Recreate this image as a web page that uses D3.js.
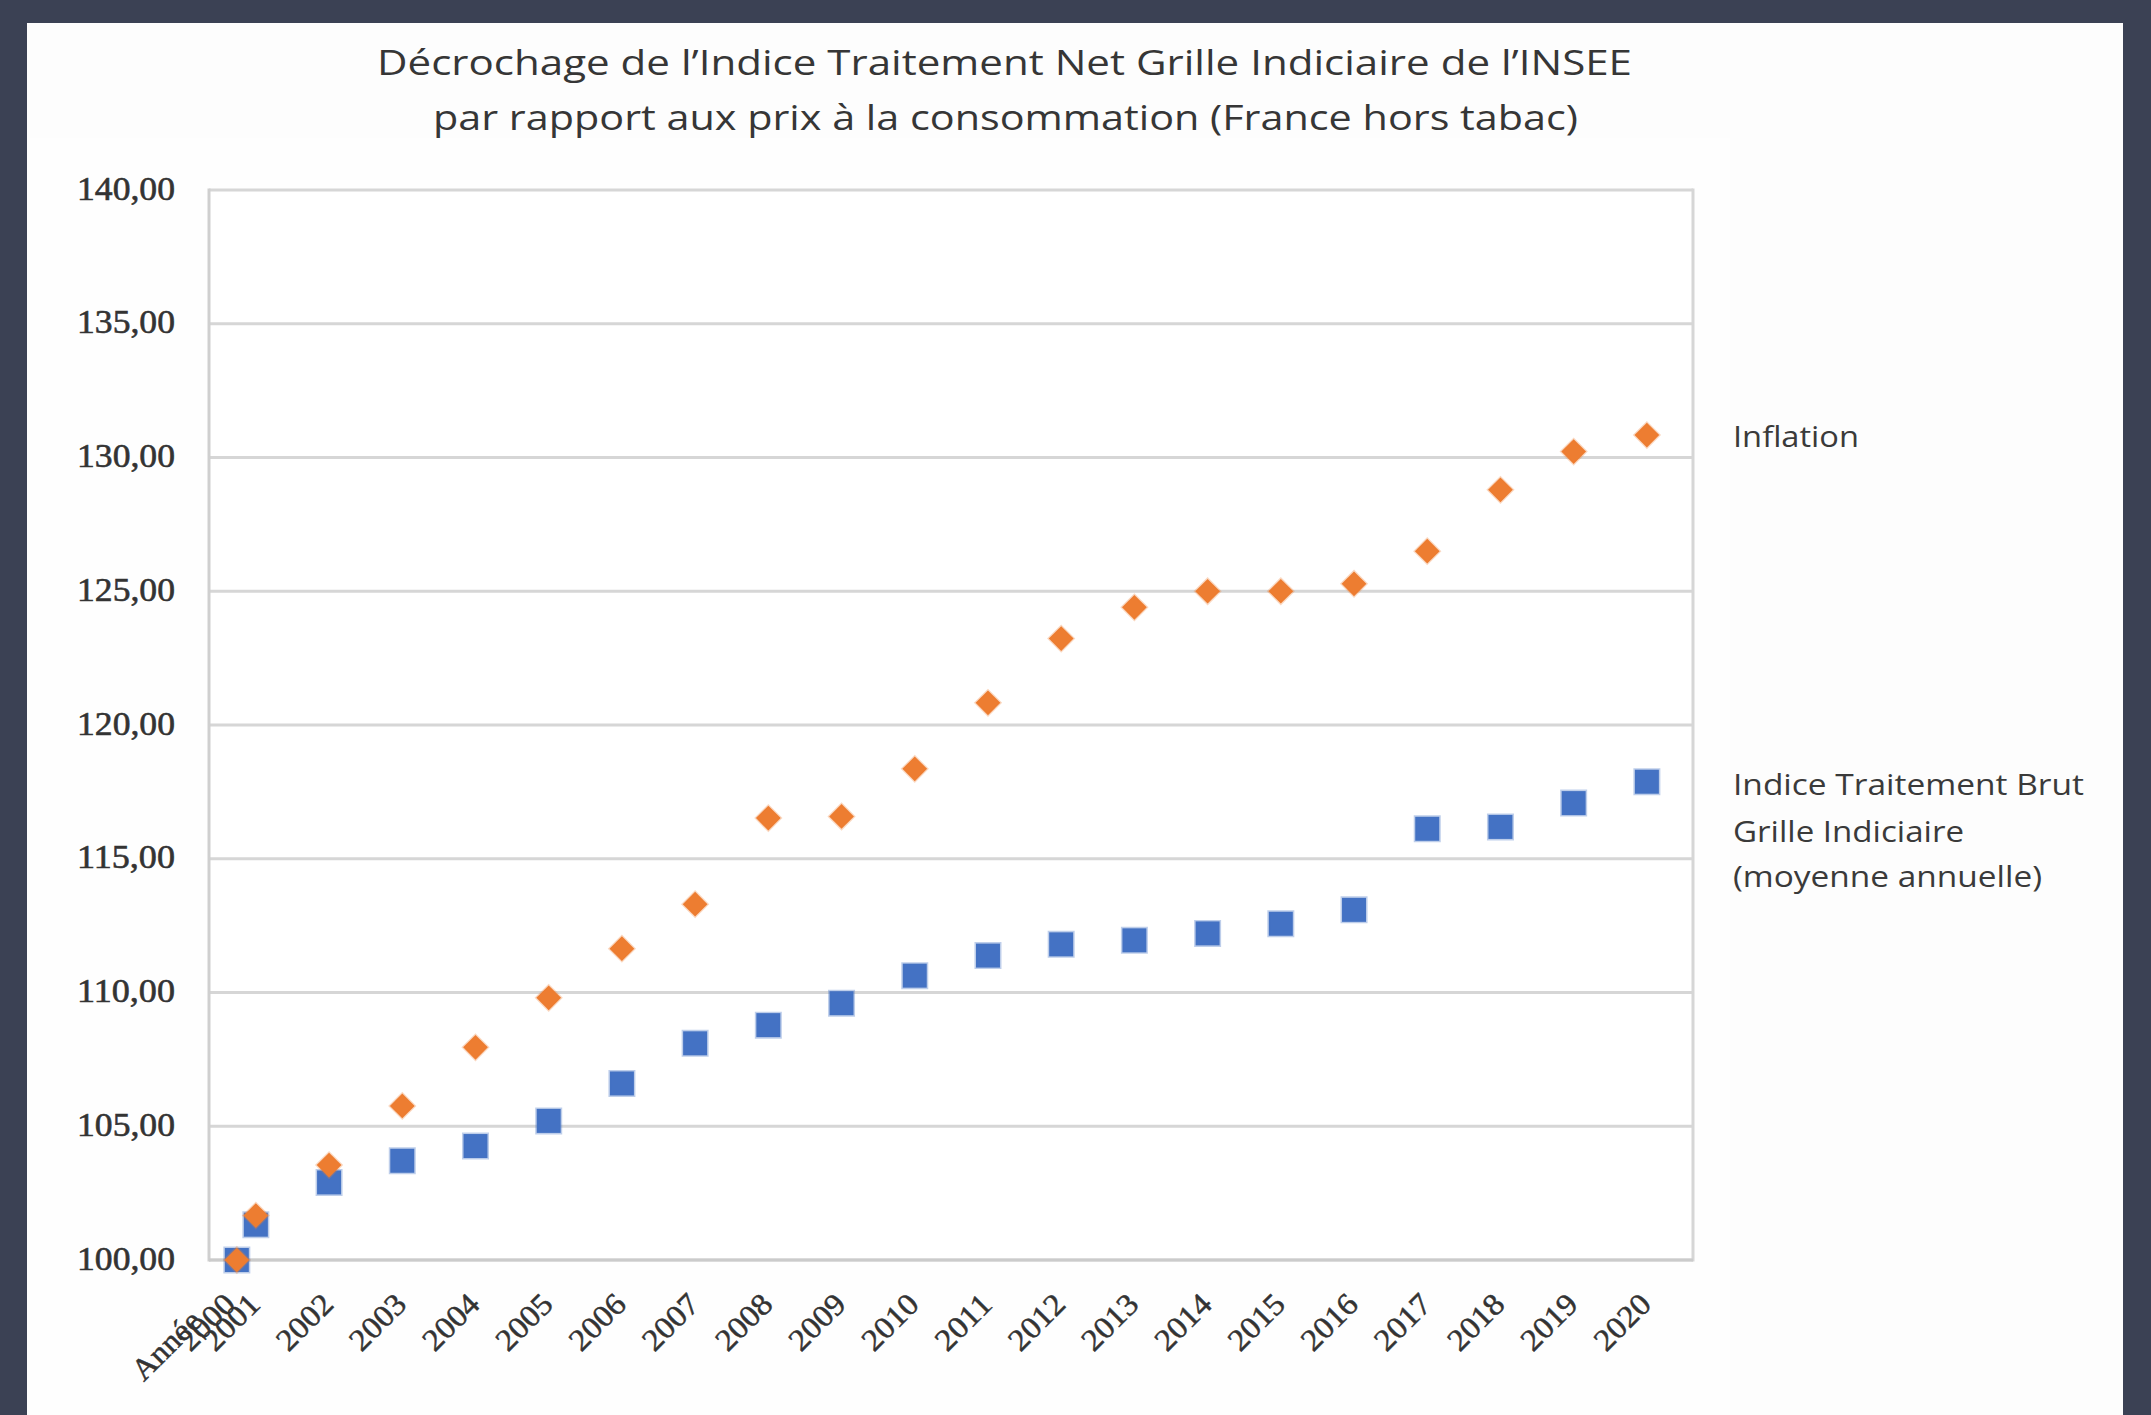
<!DOCTYPE html>
<html>
<head>
<meta charset="utf-8">
<script src="https://cdn.jsdelivr.net/npm/d3@7"></script>
<style>
  html, body { margin: 0; padding: 0; background: #3b4154; }
  svg { display: block; }
</style>
</head>
<body>
<svg id="chart" width="2151" height="1415"></svg>
<script>
// ---------------- DATA ----------------
const titleLines = [
  "Décrochage de l’Indice Traitement Net Grille Indiciaire de l’INSEE",
  "par rapport aux prix à la consommation (France hors tabac)"
];
const categories = ["Année 2000", "2001", "2002", "2003", "2004", "2005", "2006", "2007", "2008", "2009",
  "2010", "2011", "2012", "2013", "2014", "2015", "2016", "2017", "2018", "2019", "2020"];
const xValues = [2000.74, 2001, 2002, 2003, 2004, 2005, 2006, 2007, 2008, 2009,
  2010, 2011, 2012, 2013, 2014, 2015, 2016, 2017, 2018, 2019, 2020];
const inflation = [100.00, 101.66, 103.55, 105.76, 107.95, 109.80, 111.64, 113.30, 116.52, 116.58,
  118.36, 120.83, 123.23, 124.40, 125.00, 125.00, 125.28, 126.50, 128.79, 130.22, 130.84];
const indiceTraitement = [100.00, 101.32, 102.90, 103.71, 104.26, 105.20, 106.60, 108.10, 108.78, 109.60,
  110.63, 111.38, 111.80, 111.95, 112.21, 112.57, 113.09, 116.12, 116.19, 117.08, 117.88];
const yTicks = [100, 105, 110, 115, 120, 125, 130, 135, 140];
const seriesNames = {
  inflation: ["Inflation"],
  indice: ["Indice Traitement Brut", "Grille Indiciaire", "(moyenne annuelle)"]
};

// ---------------- LAYOUT ----------------
const svg = d3.select("#chart");
const plot = { left: 209, right: 1693, top: 190, bottom: 1260 };

// panel
svg.append("rect").attr("x", 27).attr("y", 23).attr("width", 2096).attr("height", 1400).attr("fill", "#fdfdfd");
svg.append("rect").attr("x", 30).attr("y", 138).attr("width", 1700).attr("height", 1277).attr("fill", "#fefefe");
svg.append("rect").attr("x", plot.left).attr("y", plot.top)
  .attr("width", plot.right - plot.left).attr("height", plot.bottom - plot.top).attr("fill", "#ffffff");

const x = d3.scaleLinear().domain([2000.36, 2020.63]).range([plot.left, plot.right]);
const y = d3.scaleLinear().domain([100, 140]).range([plot.bottom, plot.top]);

const fr = d3.formatLocale({ decimal: ",", thousands: " ", grouping: [3], currency: ["", "€"] });
const fmt = fr.format(".2f");

// title
const titleG = svg.append("g").attr("font-family", "'Open Sans', sans-serif").attr("fill", "#363636");
const titleSpec = [{ x: 377, y: 75, len: 1255 }, { x: 433, y: 130, len: 1145 }];
titleLines.forEach((t, i) => {
  titleG.append("text").attr("x", titleSpec[i].x).attr("y", titleSpec[i].y)
    .attr("font-size", 34).attr("textLength", titleSpec[i].len).attr("lengthAdjust", "spacingAndGlyphs")
    .text(t);
});

// gridlines
const gridG = svg.append("g");
gridG.selectAll("line").data(yTicks).join("line")
  .attr("x1", plot.left).attr("x2", plot.right)
  .attr("y1", d => y(d)).attr("y2", d => y(d))
  .attr("stroke", "#d6d6d6").attr("stroke-width", 3);
gridG.append("line").attr("x1", plot.left).attr("x2", plot.left).attr("y1", plot.top - 1.5).attr("y2", plot.bottom + 1.5)
  .attr("stroke", "#cfcfcf").attr("stroke-width", 3);
gridG.append("line").attr("x1", plot.right).attr("x2", plot.right).attr("y1", plot.top - 1.5).attr("y2", plot.bottom + 1.5)
  .attr("stroke", "#d6d6d6").attr("stroke-width", 3);
gridG.append("line").attr("x1", plot.left).attr("x2", plot.right).attr("y1", plot.bottom).attr("y2", plot.bottom)
  .attr("stroke", "#cbcbcb").attr("stroke-width", 3);

// y axis via d3.axisLeft
const yAxis = d3.axisLeft(y).tickValues(yTicks).tickFormat(d => fmt(d)).tickSize(0).tickPadding(0);
const yAxisG = svg.append("g").attr("transform", `translate(175,0)`).call(yAxis);
yAxisG.select(".domain").remove();
yAxisG.selectAll("text")
  .attr("font-family", "'Liberation Serif', 'Times New Roman', serif")
  .attr("font-size", 34).attr("fill", "#333")
  .attr("stroke", "#333").attr("stroke-width", 0.6)
  .attr("dy", "0.27em")
  .attr("textLength", 98).attr("lengthAdjust", "spacingAndGlyphs");

// x labels
const xLabG = svg.append("g")
  .attr("font-family", "'Liberation Serif', 'Times New Roman', serif")
  .attr("font-size", 31).attr("fill", "#333")
  .attr("stroke", "#333").attr("stroke-width", 0.5);
categories.forEach((c, i) => {
  const t = xLabG.append("text")
    .attr("text-anchor", "end")
    .attr("transform", `translate(${x(xValues[i]) + 6},1306) rotate(-45)`);
  if (c.indexOf(" ") >= 0) {
    const parts = c.split(" ");
    t.append("tspan").attr("x", -40).attr("y", -16).attr("textLength", 84).attr("lengthAdjust", "spacingAndGlyphs").text(parts[0]);
    t.append("tspan").attr("x", -4).attr("y", -4).attr("textLength", 66).attr("lengthAdjust", "spacingAndGlyphs").text(parts[1]);
  } else {
    t.attr("textLength", 66).attr("lengthAdjust", "spacingAndGlyphs").text(c);
  }
});

// markers
const squareSym = d3.symbol().type(d3.symbolSquare).size(24 * 24);
const diamondSym = d3.symbol().type(d3.symbolSquare).size(17.5 * 17.5);

svg.append("g").selectAll("path").data(indiceTraitement).join("path")
  .attr("d", squareSym)
  .attr("transform", (d, i) => `translate(${x(xValues[i])},${y(d)})`)
  .attr("fill", "#4472c4")
  .attr("stroke", "#4472c4").attr("stroke-opacity", 0.35).attr("stroke-width", 3);

svg.append("g").selectAll("path").data(inflation).join("path")
  .attr("d", diamondSym)
  .attr("transform", (d, i) => `translate(${x(xValues[i])},${y(d)}) rotate(45)`)
  .attr("fill", "#ed7d31")
  .attr("stroke", "#ed7d31").attr("stroke-opacity", 0.3).attr("stroke-width", 2.5);

// series labels (legend)
const legG = svg.append("g").attr("font-family", "'Open Sans', sans-serif").attr("font-size", 30).attr("fill", "#3a3a3a");
const legSpec = {
  inflation: [{ y: 447, len: 126 }],
  indice: [{ y: 795, len: 351 }, { y: 842, len: 231 }, { y: 887, len: 309 }]
};
Object.keys(seriesNames).forEach(k => {
  seriesNames[k].forEach((line, j) => {
    legG.append("text").attr("x", 1733).attr("y", legSpec[k][j].y)
      .attr("textLength", legSpec[k][j].len).attr("lengthAdjust", "spacingAndGlyphs")
      .text(line);
  });
});
</script>
</body>
</html>
